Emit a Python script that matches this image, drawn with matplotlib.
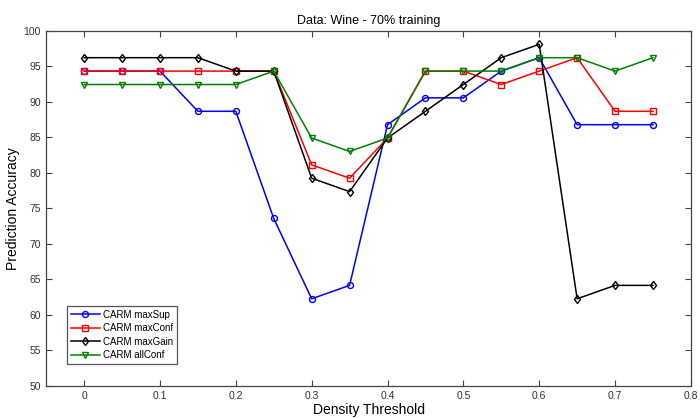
import matplotlib
matplotlib.use('Agg')
import matplotlib.pyplot as plt

plt.rcParams['font.family'] = ['Liberation Sans', 'DejaVu Sans']

# density thresholds
density = [0, 0.05, 0.1, 0.15, 0.2, 0.25, 0.3, 0.35, 0.4, 0.45, 0.5, 0.55, 0.6, 0.65, 0.7, 0.75]

# prediction accuracy (%)
max_sup = [94.34, 94.34, 94.34, 88.68, 88.68, 73.58, 62.26, 64.15, 86.79, 90.57, 90.57, 94.34, 96.23, 86.79, 86.79, 86.79]
max_conf = [94.34, 94.34, 94.34, 94.34, 94.34, 94.34, 81.13, 79.25, 84.91, 94.34, 94.34, 92.45, 94.34, 96.23, 88.68, 88.68]
max_gain = [96.23, 96.23, 96.23, 96.23, 94.34, 94.34, 79.25, 77.36, 84.91, 88.68, 92.45, 96.23, 98.11, 62.26, 64.15, 64.15]
all_conf = [92.45, 92.45, 92.45, 92.45, 92.45, 94.34, 84.91, 83.02, 84.91, 94.34, 94.34, 94.34, 96.23, 96.23, 94.34, 96.23]

fig = plt.figure(figsize=(7, 4.18), dpi=100)
ax = fig.add_axes([0.066, 0.077, 0.921, 0.849])

style = dict(lw=1.1, markersize=4.3, markerfacecolor='none', markeredgewidth=1.0)
ax.plot(density, max_sup, color='#0000ff', marker='o', label='CARM maxSup', **style)
ax.plot(density, max_conf, color='#ff0000', marker='s', label='CARM maxConf', **style)
ax.plot(density, max_gain, color='#000000', marker='d', label='CARM maxGain', **style)
ax.plot(density, all_conf, color='#008000', marker='v', label='CARM allConf', **style)

ax.set_xlim(-0.05, 0.8)
ax.set_ylim(50, 100)
ax.set_xticks([0, 0.1, 0.2, 0.3, 0.4, 0.5, 0.6, 0.7, 0.8])
ax.set_xticklabels(['0', '0.1', '0.2', '0.3', '0.4', '0.5', '0.6', '0.7', '0.8'])
ax.set_yticks(range(50, 101, 5))
ax.tick_params(direction='in', length=4, width=0.8, color='#444444',
               top=True, right=True, labelsize=7.5, labelcolor='#333333', pad=4)
for s in ax.spines.values():
    s.set_color('#444444')
    s.set_linewidth(0.9)

ax.set_title('Data: Wine - 70% training', fontsize=9, pad=5)
ax.set_xlabel('Density Threshold', fontsize=10, labelpad=1)
ax.set_ylabel('Prediction Accuracy', fontsize=10, labelpad=2)

leg = ax.legend(loc='lower left', bbox_to_anchor=(0.032, 0.062), borderaxespad=0,
                fontsize=7, fancybox=False, framealpha=1, edgecolor='#555555',
                handlelength=3, borderpad=0.4, labelspacing=0.35, handletextpad=0.3)
leg.get_frame().set_linewidth(0.9)

fig.savefig('out.png', dpi=100)
